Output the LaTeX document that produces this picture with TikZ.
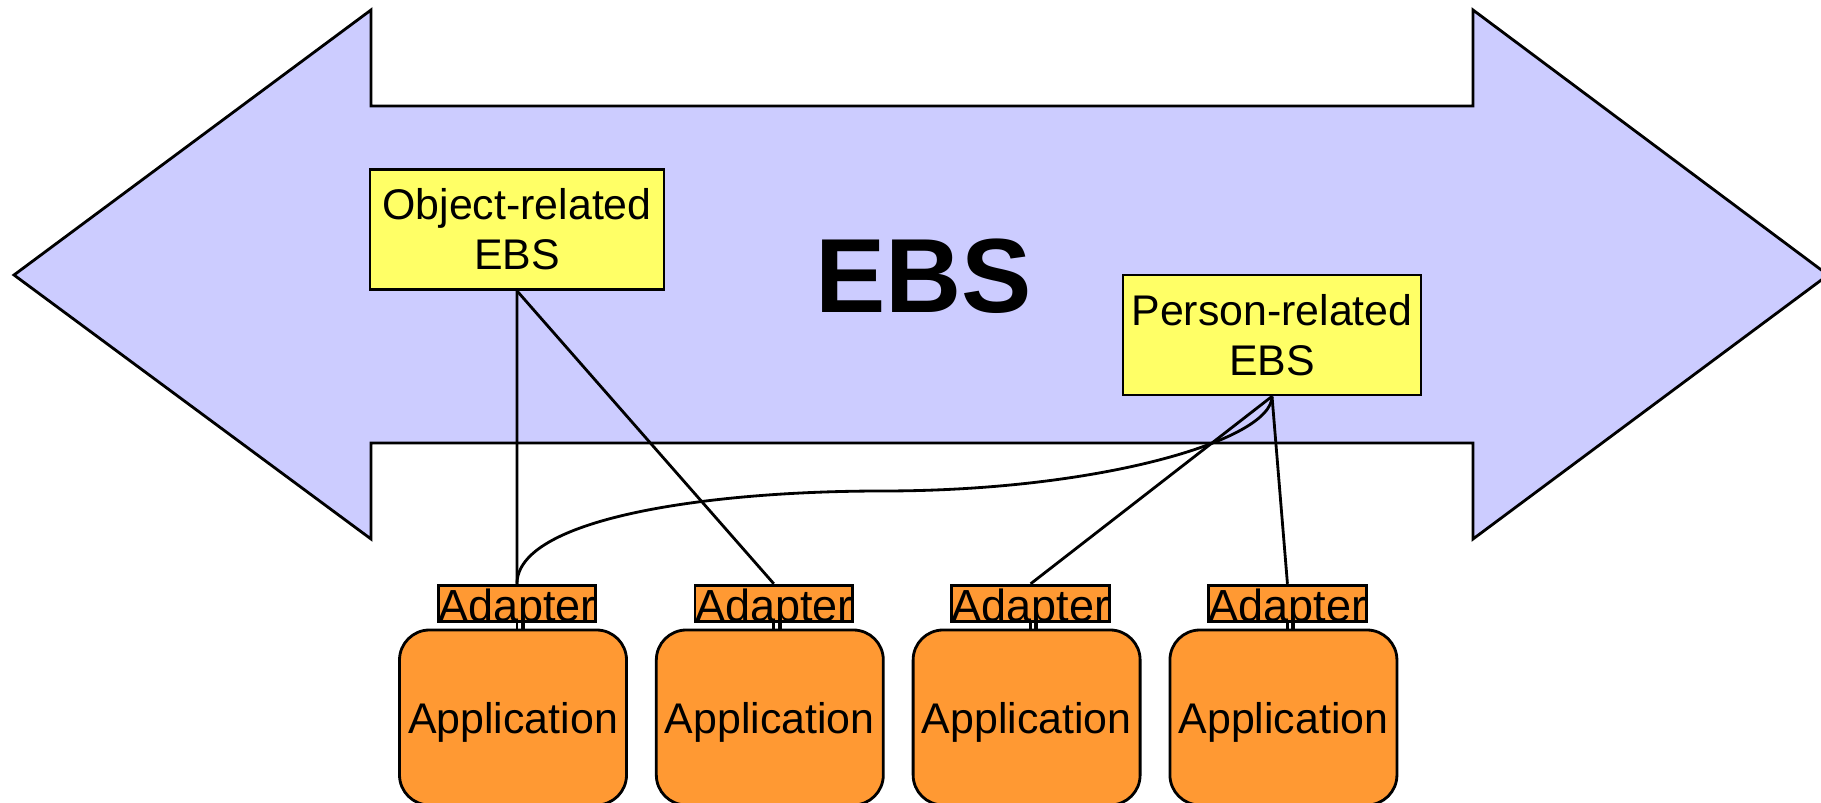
\documentclass[tikz,border=0pt]{standalone}
\usepackage{fontspec}
\setmainfont{Liberation Sans}
\usepackage{xcolor}
\usetikzlibrary{positioning}
\definecolor{ebsblue}{RGB}{204,204,255}
\definecolor{ebsyellow}{RGB}{255,255,102}
\definecolor{apporange}{RGB}{255,153,51}

\begin{document}
\begin{tikzpicture}[x=0.1mm, y=-0.1mm, node distance = 2.7mm, line width=0.8pt,
        ebsbox/.style={draw, fill=ebsyellow, align=center, inner xsep=1pt, minimum width=29.4mm, minimum height=12mm, font=\fontsize{12.2}{14.3}\selectfont},
        app/.style={draw, fill=apporange, rounded corners=3mm, inner xsep=1pt, minimum width=22.7mm, minimum height=17.5mm, text depth=0pt, font=\fontsize{12.2}{14.3}\selectfont},
        adapter/.style={draw, fill=apporange, minimum width=15.7mm, inner sep=0pt, text height=3.6mm, text depth=0pt, font=\fontsize{12.8}{15}\selectfont}]
        \useasboundingbox (0,0) rectangle (1821,803);
        %\tikzset{every node/.style={font=\small}}
        \filldraw[fill=ebsblue] (14,275) -- (371,10) -- (371,106) -- (1473,106) -- (1473,10) -- (1828,275)
            -- (1473,539) -- (1473,443) -- (371,443) -- (371,539) -- cycle;
        \node[font=\fontsize{30}{36}\selectfont\bfseries] (ebs) at (923.5,276.5) {EBS};

        \node[ebsbox] (obj) at (517,229.5) {Object-related\\EBS};
        \node[ebsbox, minimum width=29.8mm] (per) at (1272,335) {Person-related\\EBS};

        \node[app] (app1) at (513,717.5) {Application};
        \node[app] (app2) [right = of app1] {Application};
        \node[app] (app3) [right = of app2] {Application};
        \node[app] (app4) [right = of app3] {Application};

        \node[adapter] (adp1) [above = 0.6mm of app1, xshift=0.4mm] {Adapter};
        \node[adapter] (adp2) [above = 0.6mm of app2, xshift=0.4mm] {Adapter};
        \node[adapter] (adp3) [above = 0.6mm of app3, xshift=0.4mm] {Adapter};
        \node[adapter] (adp4) [above = 0.6mm of app4, xshift=0.4mm] {Adapter};

        \draw (adp1.south) -- (adp1.south |- app1.north);
        \draw (adp2.south) -- (adp2.south |- app2.north);
        \draw (adp3.south) -- (adp3.south |- app3.north);
        \draw (adp4.south) -- (adp4.south |- app4.north);

        \draw (obj.south) -- (adp1.north);
        \draw (obj.south) -- (adp2.north);
        \draw (per.south) -- (adp3.north);
        \draw (per.south) -- (adp4.north);

        \coordinate (bend) at (883,491);
        \draw (adp1.north) .. controls (517,520) and (700,491) .. (bend)
            .. controls (1100,491) and (1272,440) .. (per.south);
\end{tikzpicture}
\end{document}
